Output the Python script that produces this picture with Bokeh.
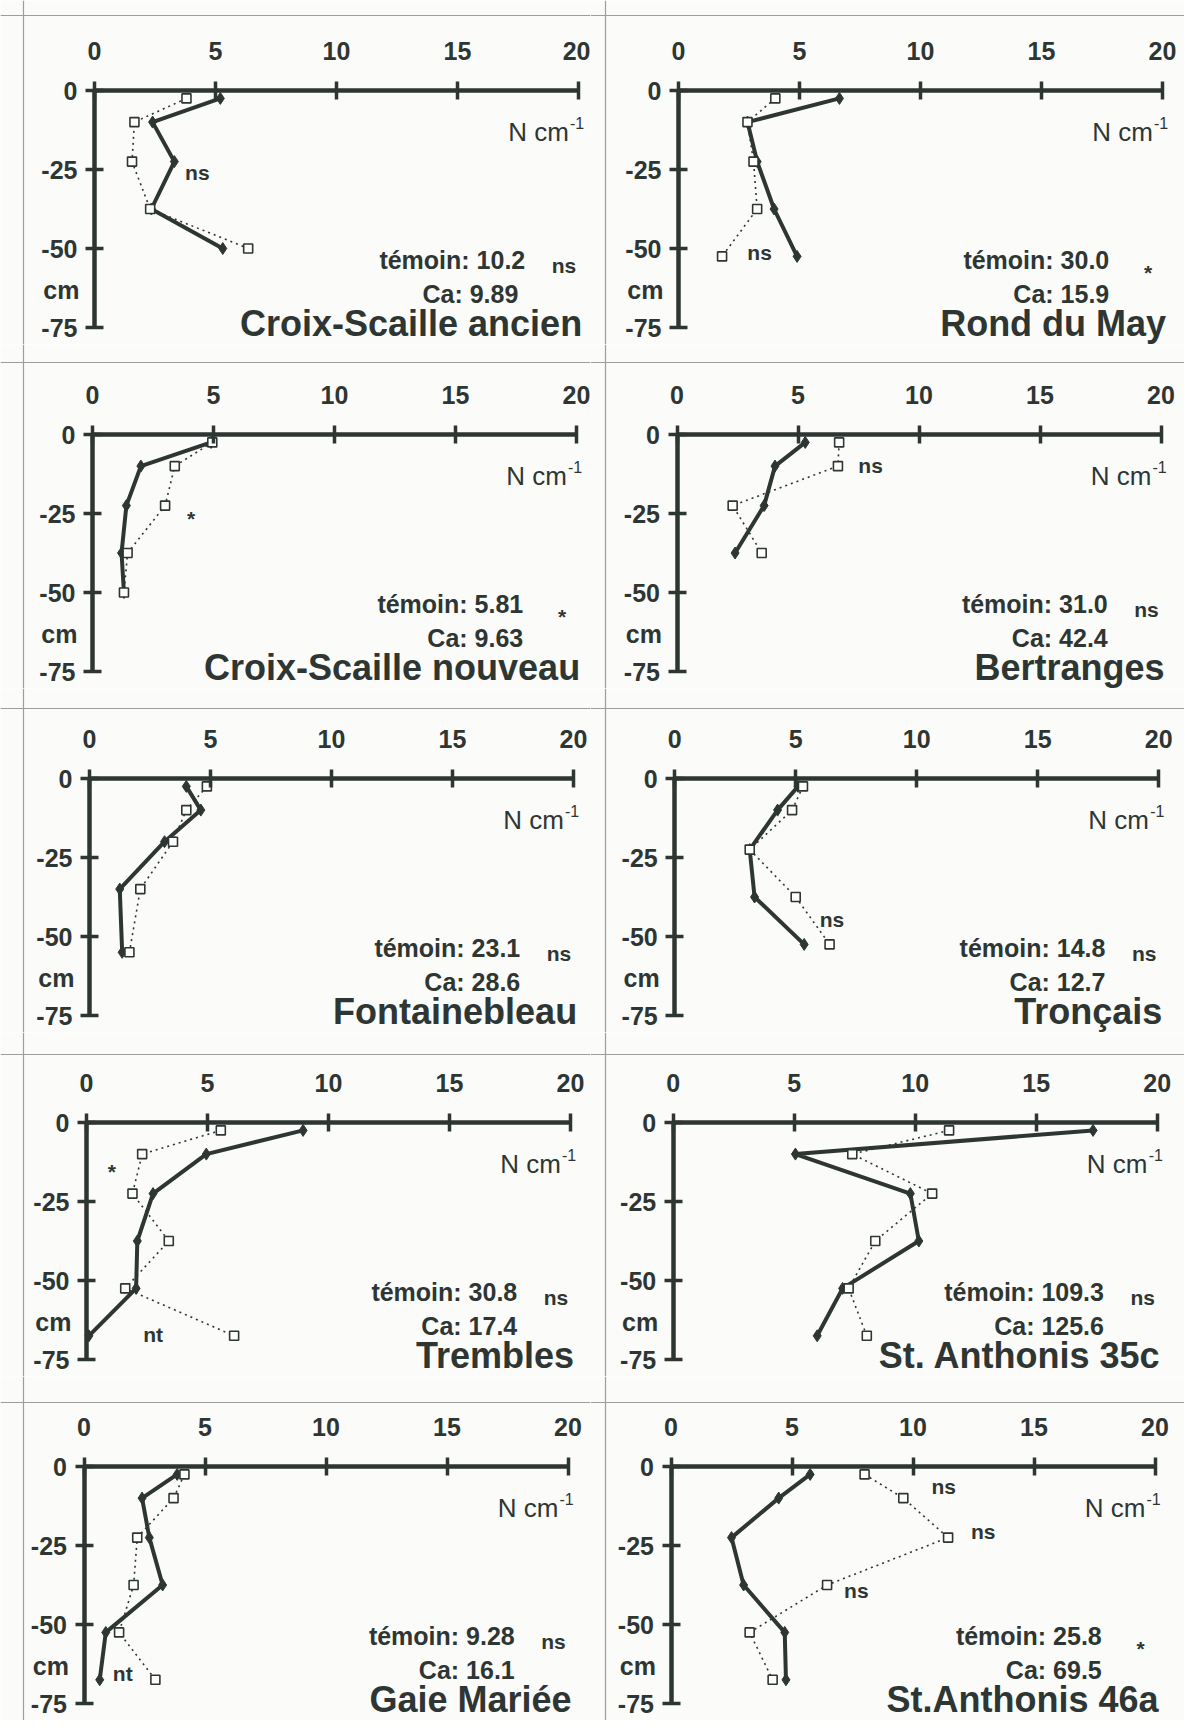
from bokeh.plotting import figure
from bokeh.layouts import column, row
from bokeh.models import FixedTicker, Range1d, Span
from bokeh.embed import file_html
from bokeh.resources import INLINE
from bokeh.core.properties import value

# ---------------- data ----------------
sites = ["Croix-Scaille ancien", "Rond du May", "Croix-Scaille nouveau", "Bertranges",
         "Fontainebleau", "Tronçais", "Trembles", "St. Anthonis 35c",
         "Gaie Mariée", "St.Anthonis 46a"]

depth_croix_ancien = [-2.5, -10, -22.5, -37.5, -50]
temoin_croix_ancien = [5.2, 2.4, 3.3, 2.35, 5.3]
ca_croix_ancien = [3.8, 1.65, 1.55, 2.3, 6.35]

depth_rond_may = [-2.5, -10, -22.5, -37.5, -52.5]
temoin_rond_may = [6.65, 2.85, 3.25, 3.95, 4.9]
ca_rond_may = [4.0, 2.85, 3.1, 3.25, 1.8]

depth_croix_nouveau = [-2.5, -10, -22.5, -37.5, -50]
temoin_croix_nouveau = [4.9, 2.0, 1.4, 1.2, 1.3]
ca_croix_nouveau = [4.95, 3.4, 3.0, 1.45, 1.3]

depth_bertranges = [-2.5, -10, -22.5, -37.5]
temoin_bertranges = [5.3, 4.05, 3.6, 2.4]
ca_bertranges = [6.7, 6.65, 2.3, 3.5]

depth_fontainebleau = [-2.5, -10, -20, -35, -55]
temoin_fontainebleau = [4.0, 4.6, 3.1, 1.25, 1.35]
ca_fontainebleau = [4.85, 4.0, 3.45, 2.1, 1.65]

depth_troncais = [-2.5, -10, -22.5, -37.5, -52.5]
temoin_troncais = [5.1, 4.25, 3.1, 3.3, 5.35]
ca_troncais = [5.3, 4.85, 3.1, 5.0, 6.4]

depth_trembles = [-2.5, -10, -22.5, -37.5, -52.5, -67.5]
temoin_trembles = [8.95, 4.95, 2.75, 2.1, 2.05, 0.1]
ca_trembles = [5.55, 2.3, 1.9, 3.4, 1.6, 6.1]

depth_anthonis35 = [-2.5, -10, -22.5, -37.5, -52.5, -67.5]
temoin_anthonis35 = [17.35, 5.05, 9.8, 10.15, 7.0, 5.95]
ca_anthonis35 = [11.4, 7.4, 10.7, 8.35, 7.25, 8.0]

depth_gaie = [-2.5, -10, -22.5, -37.5, -52.5, -67.5]
temoin_gaie = [3.85, 2.4, 2.7, 3.25, 0.9, 0.65]
ca_gaie = [4.15, 3.7, 2.2, 2.05, 1.45, 2.95]

depth_anthonis46 = [-2.5, -10, -22.5, -37.5, -52.5, -67.5]
temoin_anthonis46 = [5.75, 4.45, 2.5, 3.0, 4.7, 4.75]
ca_anthonis46 = [8.0, 9.6, 11.45, 6.45, 3.25, 4.2]

total_temoin = ["10.2", "30.0", "5.81", "31.0", "23.1", "14.8", "30.8", "109.3", "9.28", "25.8"]
total_ca = [" 9.89", "15.9", "9.63", "42.4", "28.6", "12.7", "17.4", "125.6", "16.1", "69.5"]
total_sig = ["ns", "*", "*", "ns", "ns", "ns", "ns", "ns", "ns", "*"]

x_ticks = [0, 5, 10, 15, 20]
y_ticks = [0, -25, -50, -75]

depths = [depth_croix_ancien, depth_rond_may, depth_croix_nouveau, depth_bertranges,
          depth_fontainebleau, depth_troncais, depth_trembles, depth_anthonis35,
          depth_gaie, depth_anthonis46]
temoins = [temoin_croix_ancien, temoin_rond_may, temoin_croix_nouveau, temoin_bertranges,
           temoin_fontainebleau, temoin_troncais, temoin_trembles, temoin_anthonis35,
           temoin_gaie, temoin_anthonis46]
cas = [ca_croix_ancien, ca_rond_may, ca_croix_nouveau, ca_bertranges,
       ca_fontainebleau, ca_troncais, ca_trembles, ca_anthonis35,
       ca_gaie, ca_anthonis46]

# per-layer significance marks placed next to the profiles (text, x, y)
layer_notes = [
    [("ns", 4.25, -26)],
    [("ns", 3.35, -51.2)],
    [("*", 4.07, -26.5)],
    [("ns", 8.0, -9.7)],
    [],
    [("ns", 6.5, -44.5)],
    [("*", 1.05, -15.5), ("nt", 2.75, -67)],
    [],
    [("nt", 1.6, -65.5)],
    [("ns", 11.27, -6.4), ("ns", 12.9, -20.5), ("ns", 7.66, -39.1)],
]

# ---------------- style / layout ----------------
INK = "#2e3633"
BG = "#fbfbfa"
RULE = "#9a9f9c"
SANS = "Liberation Sans"
KX = 24.2     # px per N cm-1 unit
KY = 3.16     # px per cm
ROW_H = 344
COL_W = [590, 594]
ZERO_X = [[94, 92, 89, 86, 83.5],       # left column, px from figure left to value 0
          [88, 86.5, 84.2, 82.7, 80.5]]  # right column
ZERO_Y = 90
rule_top = [15, 18, 20, 22, 26]   # scanned table rules, px from figure top
rule_left = [23, 15]              # px from figure left


def make_panel(i, r, c):
    width, height = COL_W[c], ROW_H
    zx = ZERO_X[c][r]

    def px_to_x(px):
        return (px - zx) / KX

    def px_to_y(py):
        return (ZERO_Y - py) / KY

    p = figure(width=width, height=height,
               x_range=Range1d(px_to_x(0), px_to_x(width)),
               y_range=Range1d(px_to_y(height), px_to_y(0)),
               x_axis_location="above", output_backend="svg", toolbar_location=None,
               min_border=0, min_border_left=0, min_border_right=0,
               min_border_top=0, min_border_bottom=0,
               background_fill_color=BG, border_fill_color=BG,
               outline_line_color=None)
    p.xgrid.grid_line_color = None
    p.ygrid.grid_line_color = None

    # scanned table rules
    p.add_layout(Span(location=px_to_y(rule_top[r]), dimension="width",
                      line_color=RULE, line_width=1.2))
    p.add_layout(Span(location=px_to_x(rule_left[c]), dimension="height",
                      line_color=RULE, line_width=1.2))

    xa = p.xaxis[0]
    xa.ticker = FixedTicker(ticks=x_ticks)
    xa.bounds = (0, 20)
    xa.fixed_location = 0
    ya = p.yaxis[0]
    ya.ticker = FixedTicker(ticks=y_ticks)
    ya.bounds = (-75, 0)
    ya.fixed_location = 0
    ya.major_label_overrides = {t: str(t) for t in y_ticks}
    for ax in (xa, ya):
        ax.axis_line_color = INK
        ax.axis_line_width = 4.5
        ax.major_tick_line_color = INK
        ax.major_tick_line_width = 3.5
        ax.major_tick_in = 9
        ax.major_tick_out = 9
        ax.minor_tick_line_color = None
        ax.major_label_text_font = SANS
        ax.major_label_text_font_style = "bold"
        ax.major_label_text_font_size = "25px"
        ax.major_label_text_color = INK
    xa.major_label_standoff = 22
    ya.major_label_standoff = 8

    d, t, ca = depths[i], temoins[i], cas[i]
    p.line(t, d, line_color=INK, line_width=4)
    p.line(ca, d, line_color=INK, line_width=1.6, line_dash="2 4")
    p.scatter(t, d, marker="diamond", size=12, fill_color=INK, line_color=INK)
    p.scatter(ca, d, marker="square", size=9, fill_color="white", line_color=INK, line_width=1.6)

    # unit labels
    p.text(x=[19.6], y=[-13.0], text=["N cm"], text_align="right", text_baseline="alphabetic",
           text_font=value(SANS), text_font_size="26px", text_color=INK)
    p.text(x=[19.65], y=[-10.3], text=["-1"], text_align="left", text_baseline="alphabetic",
           text_font=value(SANS), text_font_size="16px", text_color=INK)
    p.text(x=[-0.62], y=[-63], text=["cm"], text_align="right", text_baseline="middle",
           text_font=value(SANS), text_font_style="bold", text_font_size="25px", text_color=INK)

    # totals
    p.text(x=[17.8], y=[-53.5], text=["témoin: " + total_temoin[i]], text_align="right",
           text_baseline="alphabetic", text_font=value(SANS), text_font_style="bold",
           text_font_size="25px", text_color=INK)
    p.text(x=[17.8], y=[-64.5], text=["Ca: " + total_ca[i]], text_align="right",
           text_baseline="alphabetic", text_font=value(SANS), text_font_style="bold",
           text_font_size="25px", text_color=INK)
    sig_y = -57.5 if total_sig[i] == "*" else -55.5
    p.text(x=[19.4], y=[sig_y], text=[total_sig[i]], text_align="center",
           text_baseline="middle", text_font=value(SANS), text_font_style="bold",
           text_font_size="21px", text_color=INK)
    p.text(x=[20.15], y=[-73.6], text=[sites[i]], text_align="right", text_baseline="alphabetic",
           text_font=value(SANS), text_font_style="bold", text_font_size="36px", text_color=INK)

    notes = layer_notes[i]
    if notes:
        p.text(x=[n[1] for n in notes], y=[n[2] for n in notes], text=[n[0] for n in notes],
               text_align="center", text_baseline="middle", text_font=value(SANS),
               text_font_style="bold", text_font_size="21px", text_color=INK)
    return p


rows = []
for r in range(5):
    left = make_panel(2 * r, r, 0)
    right = make_panel(2 * r + 1, r, 1)
    rows.append(row(left, right))

layout = column(*rows)
open("out.html", "w").write(file_html(layout, INLINE))
